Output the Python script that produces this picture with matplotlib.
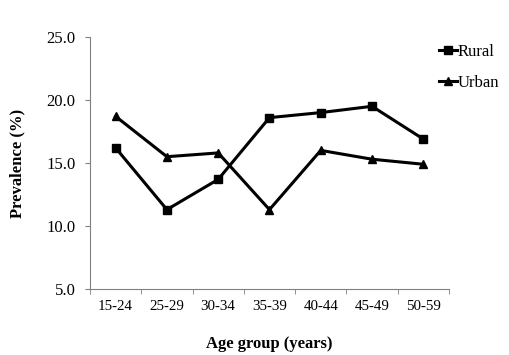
import matplotlib
matplotlib.use("Agg")
import matplotlib.pyplot as plt
import numpy as np

AGE_GROUPS = ["15-24", "25-29", "30-34", "35-39", "40-44", "45-49", "50-59"]
RURAL = [16.2, 11.3, 13.7, 18.6, 19.0, 19.5, 16.9]
URBAN = [18.7, 15.5, 15.8, 11.3, 16.0, 15.3, 14.9]
Y_TICKS = [5.0, 10.0, 15.0, 20.0, 25.0]

plt.rcParams["font.family"] = ["Liberation Serif", "DejaVu Serif"]

fig = plt.figure(figsize=(5.09, 3.55), dpi=100)
ax = fig.add_axes([0.1768, 0.1859, 0.7052, 0.7099])

x = np.arange(len(AGE_GROUPS))
rural_line, = ax.plot(x, RURAL, color="black", lw=2.2, marker="s", ms=6, label="Rural")
urban_line, = ax.plot(x, URBAN, color="black", lw=2.2, marker="^", ms=6, label="Urban")

ax.set_xlim(-0.5, len(AGE_GROUPS) - 0.5)
ax.set_ylim(5, 25)
ax.set_yticks(Y_TICKS)
ax.set_yticklabels([f"{v:.1f}" for v in Y_TICKS], fontsize=12)
ax.set_xticks(x)
ax.set_xticklabels(AGE_GROUPS, fontsize=10.8)
ax.tick_params(axis="x", which="major", length=0, pad=8)
ax.set_xticks(np.arange(-0.5, len(AGE_GROUPS)), minor=True)
ax.tick_params(axis="x", which="minor", length=3.5, color="#808080", direction="out")
ax.tick_params(axis="y", length=3.5, pad=7, color="#808080", direction="out")

for side in ("top", "right"):
    ax.spines[side].set_visible(False)
for side in ("left", "bottom"):
    ax.spines[side].set_color("#808080")

ax.set_ylabel("Prevalence (%)", fontsize=12, fontweight="bold", labelpad=15)
ax.set_xlabel("Age group (years)", fontsize=12, fontweight="bold", labelpad=16.5)

fig.legend(handles=[rural_line, urban_line], loc="upper left",
           bbox_to_anchor=(0.862, 0.876), frameon=False, fontsize=12,
           borderpad=0, borderaxespad=0,
           handlelength=1.1, handletextpad=0.05, labelspacing=0.9, markerscale=0.9)

fig.savefig("out.png", dpi=100)
